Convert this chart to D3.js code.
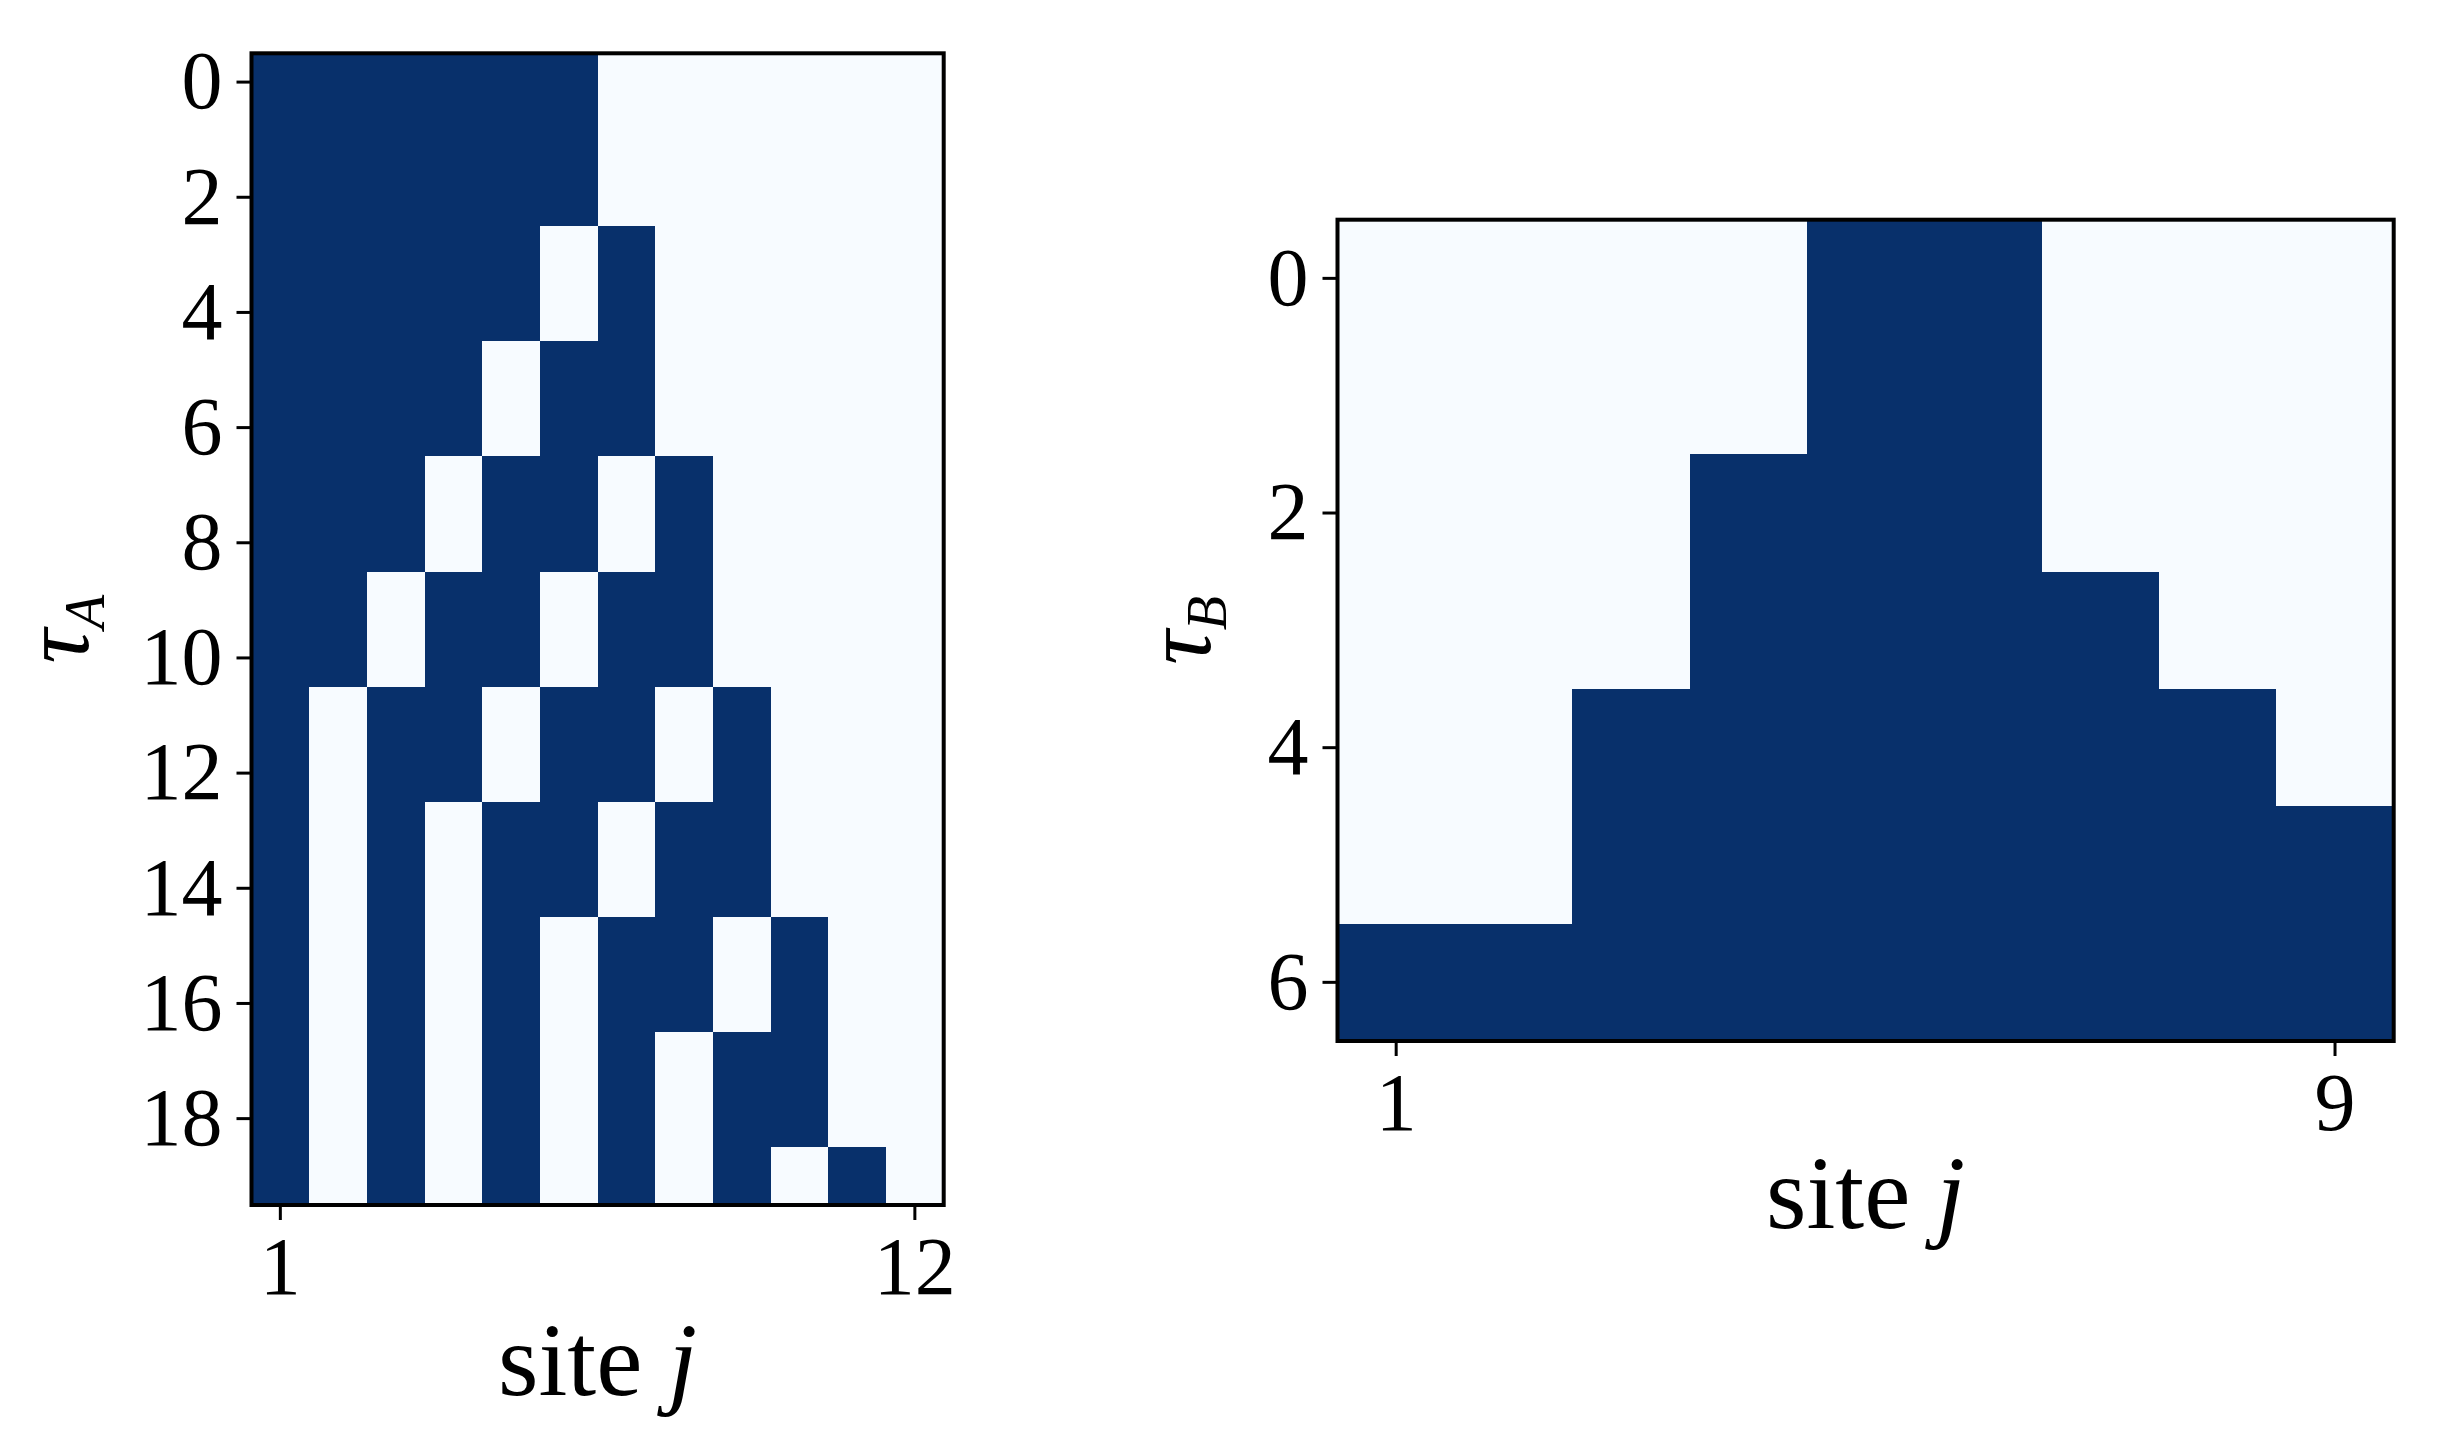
<!DOCTYPE html>
<html><head><meta charset="utf-8">
<script src="https://cdn.jsdelivr.net/npm/d3@7"></script>
<style>body{margin:0;background:#fff} text{font-family:"Liberation Serif","Times New Roman",serif;fill:#000}</style>
</head><body><svg id="c" width="2444" height="1440"></svg>
<script>
// ---- data ----
const sitesA = [1,2,3,4,5,6,7,8,9,10,11,12];
const tausA = [0,1,2,3,4,5,6,7,8,9,10,11,12,13,14,15,16,17,18,19];
const gridA = [
  [1,1,1,1,1,1,0,0,0,0,0,0],
  [1,1,1,1,1,1,0,0,0,0,0,0],
  [1,1,1,1,1,1,0,0,0,0,0,0],
  [1,1,1,1,1,0,1,0,0,0,0,0],
  [1,1,1,1,1,0,1,0,0,0,0,0],
  [1,1,1,1,0,1,1,0,0,0,0,0],
  [1,1,1,1,0,1,1,0,0,0,0,0],
  [1,1,1,0,1,1,0,1,0,0,0,0],
  [1,1,1,0,1,1,0,1,0,0,0,0],
  [1,1,0,1,1,0,1,1,0,0,0,0],
  [1,1,0,1,1,0,1,1,0,0,0,0],
  [1,0,1,1,0,1,1,0,1,0,0,0],
  [1,0,1,1,0,1,1,0,1,0,0,0],
  [1,0,1,0,1,1,0,1,1,0,0,0],
  [1,0,1,0,1,1,0,1,1,0,0,0],
  [1,0,1,0,1,0,1,1,0,1,0,0],
  [1,0,1,0,1,0,1,1,0,1,0,0],
  [1,0,1,0,1,0,1,0,1,1,0,0],
  [1,0,1,0,1,0,1,0,1,1,0,0],
  [1,0,1,0,1,0,1,0,1,0,1,0]
];
const xTicksA = [1,12];
const yTicksA = [0,2,4,6,8,10,12,14,16,18];

const sitesB = [1,2,3,4,5,6,7,8,9];
const tausB = [0,1,2,3,4,5,6];
const gridB = [
  [0,0,0,0,1,1,0,0,0],
  [0,0,0,0,1,1,0,0,0],
  [0,0,0,1,1,1,0,0,0],
  [0,0,0,1,1,1,1,0,0],
  [0,0,1,1,1,1,1,1,0],
  [0,0,1,1,1,1,1,1,1],
  [1,1,1,1,1,1,1,1,1]
];
const xTicksB = [1,9];
const yTicksB = [0,2,4,6];

// ---- drawing ----
const svg = d3.select("#c");
svg.append("rect").attr("width",2444).attr("height",1440).attr("fill","#fff");
const color = d3.scaleSequential(d3.interpolateBlues).domain([0,1]);

function panel(opts){
  const {x0,x1,y0,y1,sites,taus,grid,xTicks,yTicks,sub,xlabBase,ylabX} = opts;
  const x = d3.scaleBand().domain(sites).range([x0,x1]).padding(0);
  const y = d3.scaleBand().domain(taus).range([y0,y1]).padding(0);
  const g = svg.append("g");
  const cells = [];
  grid.forEach((row,i)=>row.forEach((v,j)=>cells.push({t:taus[i],s:sites[j],v})));
  g.append("g").attr("shape-rendering","crispEdges").selectAll("rect").data(cells).join("rect")
    .attr("x",d=>x(d.s)).attr("y",d=>y(d.t))
    .attr("width",x.bandwidth()+0.5).attr("height",y.bandwidth()+0.5)
    .attr("fill",d=>color(d.v));
  g.append("rect").attr("x",x0).attr("y",y0).attr("width",x1-x0).attr("height",y1-y0)
    .attr("fill","none").attr("stroke","#000").attr("stroke-width",4);
  const xa = g.append("g").attr("transform",`translate(0,${y1})`)
    .call(d3.axisBottom(x).tickValues(xTicks).tickSize(15).tickSizeOuter(0).tickPadding(16));
  const ya = g.append("g").attr("transform",`translate(${x0},0)`)
    .call(d3.axisLeft(y).tickValues(yTicks).tickSize(15).tickSizeOuter(0).tickPadding(14));
  [xa,ya].forEach(a=>{
    a.select(".domain").remove();
    a.selectAll(".tick line").attr("stroke","#000").attr("stroke-width",3);
    a.selectAll(".tick text").attr("font-family","Liberation Serif").attr("font-size",82).attr("fill","#000");
  });
  const xl = g.append("text").attr("x",(x0+x1)/2).attr("y",xlabBase)
    .attr("text-anchor","middle").attr("font-size",104);
  xl.append("tspan").text("site ");
  xl.append("tspan").attr("font-style","italic").text("j");
  const yl = g.append("text").attr("transform",`translate(${ylabX},${(y0+y1)/2}) rotate(-90)`)
    .attr("text-anchor","middle").attr("font-size",96);
  yl.append("tspan").attr("font-style","italic").text("τ");
  yl.append("tspan").attr("font-style","italic").attr("font-size",56).attr("dy",16).text(sub);
}

panel({x0:251.5,x1:943.7,y0:53.3,y1:1205,sites:sitesA,taus:tausA,grid:gridA,
  xTicks:xTicksA,yTicks:yTicksA,sub:"A",xlabBase:1395,ylabX:88});
panel({x0:1337.5,x1:2393.7,y0:219.7,y1:1041,sites:sitesB,taus:tausB,grid:gridB,
  xTicks:xTicksB,yTicks:yTicksB,sub:"B",xlabBase:1228,ylabX:1210});
</script></body></html>
